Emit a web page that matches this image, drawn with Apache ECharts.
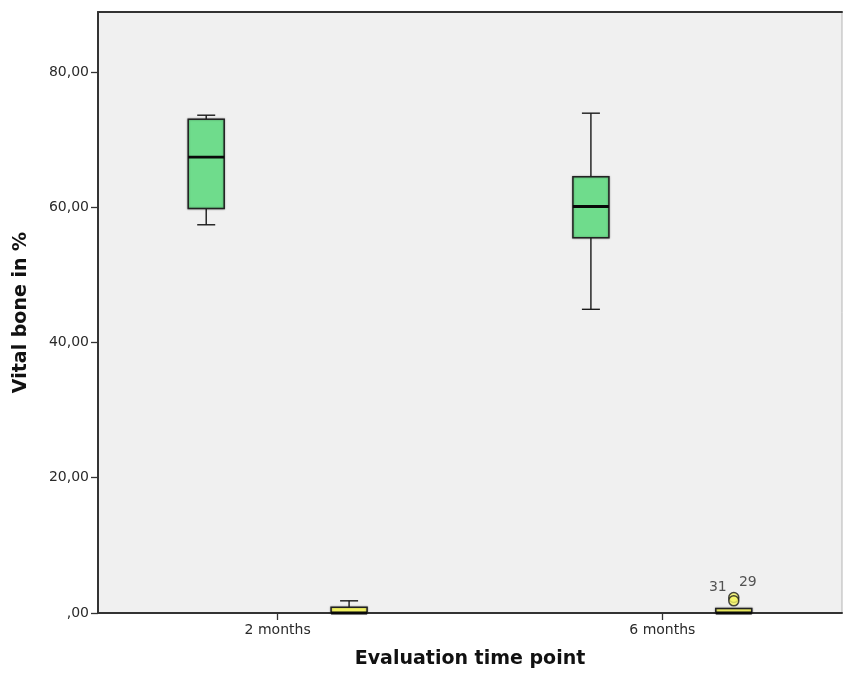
<!DOCTYPE html>
<html>
<head>
<meta charset="utf-8">
<script src="https://cdn.jsdelivr.net/npm/echarts@6/dist/echarts.min.js"></script>
<style>
  html, body { margin: 0; padding: 0; background: #fff; }
  #chart { width: 843px; height: 674px; }
</style>
</head>
<body>
<div id="chart"></div>
<script>
var categories = ['2 months', '6 months']
// [min, Q1, median, Q3, max]
var greenStats = [[57.4, 59.8, 67.4, 73.0, 73.6], [44.9, 55.5, 60.1, 64.5, 73.9]]
var yellowStats = [[0, 0, 0, 0.85, 1.8], [0, 0, 0, 0.65, 0.65]]
// [category index, value, case number]
var outliers = [[1, 2.3, '29'], [1, 1.8, '31']]
var yTicks = [0, 20, 40, 60, 80]

var groupOffset = 0.1857 // green left, yellow right of the category centre
var font = 'DejaVu Sans'

function boxData(stats, side) {
  return stats.map(function (s, i) {
    return [i + 1 + side * groupOffset].concat(s)
  })
}

function renderBox(params, api) {
  var x = api.value(0)
  var pMin = api.coord([x, api.value(1)])
  var pQ1 = api.coord([x, api.value(2)])
  var pMed = api.coord([x, api.value(3)])
  var pQ3 = api.coord([x, api.value(4)])
  var pMax = api.coord([x, api.value(5)])
  var cx = pMed[0]
  var hw = 18 // box half width
  var cw = 9 // whisker cap half width
  var fill = api.visual('color')
  var line = { stroke: '#1a1a1a', lineWidth: 1.4 }
  var children = []
  if (pMax[1] < pQ3[1] - 0.5) {
    children.push({ type: 'line', shape: { x1: cx, y1: pQ3[1], x2: cx, y2: pMax[1] }, style: line })
    children.push({ type: 'line', shape: { x1: cx - cw, y1: pMax[1], x2: cx + cw, y2: pMax[1] }, style: line })
  }
  if (pMin[1] > pQ1[1] + 0.5) {
    children.push({ type: 'line', shape: { x1: cx, y1: pQ1[1], x2: cx, y2: pMin[1] }, style: line })
    children.push({ type: 'line', shape: { x1: cx - cw, y1: pMin[1], x2: cx + cw, y2: pMin[1] }, style: line })
  }
  children.push({
    type: 'rect',
    shape: { x: cx - hw, y: pQ3[1], width: hw * 2, height: pQ1[1] - pQ3[1] },
    style: { fill: fill, stroke: '#222', lineWidth: 1.5, shadowBlur: 2, shadowColor: 'rgba(0,0,0,0.35)' }
  })
  children.push({
    type: 'line',
    shape: { x1: cx - hw, y1: pMed[1], x2: cx + hw, y2: pMed[1] },
    style: { stroke: '#0a0a0a', lineWidth: 2.8 }
  })
  return { type: 'group', children: children }
}

var outlierData = outliers.map(function (o) {
  var high = o[2] === '29'
  return {
    value: [o[0] + 1 + groupOffset, o[1], o[2]],
    label: { offset: high ? [14, -15] : [-16, -13] }
  }
})

var chart = echarts.init(document.getElementById('chart'), null, { renderer: 'canvas' })
chart.setOption({
  backgroundColor: '#ffffff',
  animation: false,
  grid: {
    left: 98, right: 1, top: 12, bottom: 60,
    show: true,
    backgroundColor: '#f0f0f0',
    borderColor: '#b5b5b5',
    borderWidth: 1
  },
  xAxis: [{
    type: 'value',
    min: 0.533,
    max: 2.467,
    name: 'Evaluation time point',
    nameLocation: 'middle',
    nameGap: 37,
    nameTextStyle: { fontFamily: font, fontSize: 19, fontWeight: 'bold', color: '#111' },
    axisLine: { show: true, lineStyle: { color: '#333', width: 2 } },
    axisTick: { show: true, length: 7, customValues: [1, 2], lineStyle: { color: '#333', width: 1.3 } },
    axisLabel: {
      customValues: [1, 2],
      margin: 10,
      fontFamily: font,
      fontSize: 14,
      color: '#2a2a2a',
      formatter: function (v) { return categories[Math.round(v) - 1] }
    },
    splitLine: { show: false }
  }, {
    type: 'value',
    position: 'top',
    min: 0.533,
    max: 2.467,
    axisLine: { show: true, lineStyle: { color: '#333', width: 2 } },
    axisTick: { show: false },
    axisLabel: { show: false },
    splitLine: { show: false }
  }],
  yAxis: {
    type: 'value',
    min: 0,
    max: 88.86,
    name: 'Vital bone in %',
    nameLocation: 'middle',
    nameGap: 67,
    nameTextStyle: { fontFamily: font, fontSize: 19, fontWeight: 'bold', color: '#111' },
    axisLine: { show: true, lineStyle: { color: '#333', width: 2 } },
    axisTick: { show: true, length: 7, customValues: yTicks, lineStyle: { color: '#333', width: 1.3 } },
    axisLabel: {
      customValues: yTicks,
      margin: 9,
      fontFamily: font,
      fontSize: 14,
      color: '#2a2a2a',
      formatter: function (v) { return v === 0 ? ',00' : v + ',00' }
    },
    splitLine: { show: false }
  },
  series: [{
    type: 'custom',
    name: 'green',
    itemStyle: { color: '#6fdc8c' },
    renderItem: renderBox,
    encode: { x: 0, y: [1, 2, 3, 4, 5] },
    data: boxData(greenStats, -1),
    clip: false
  }, {
    type: 'custom',
    name: 'yellow',
    itemStyle: { color: '#f5f564' },
    renderItem: renderBox,
    encode: { x: 0, y: [1, 2, 3, 4, 5] },
    data: boxData(yellowStats, 1),
    clip: false,
    z: 3
  }, {
    type: 'scatter',
    symbol: 'circle',
    symbolSize: 10,
    itemStyle: { color: '#f5f564', borderColor: '#1a1a1a', borderWidth: 1.5 },
    label: {
      show: true,
      position: 'inside',
      fontFamily: font,
      fontSize: 14,
      color: '#2a2a2a',
      formatter: function (p) { return p.value[2] }
    },
    data: outlierData,
    z: 4
  }]
})
</script>
</body>
</html>
